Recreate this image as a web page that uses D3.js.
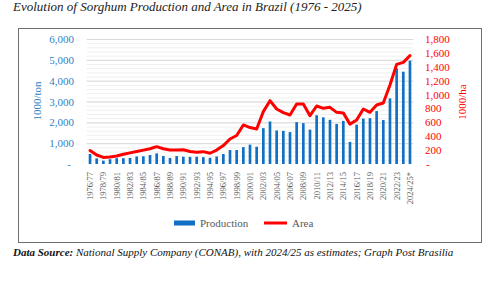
<!DOCTYPE html>
<html>
<head>
<meta charset="utf-8">
<script src="https://cdn.jsdelivr.net/npm/d3@7"></script>
<style>
  body { margin: 0; background: #fff; }
  svg, svg text { font-family: "Liberation Serif", "DejaVu Serif", serif; }
  .grid-minor line { stroke: #f0f0f0; }
  .grid-major line { stroke: #d9d9d9; }
  .grid-minor path, .grid-major path { display: none; }
</style>
</head>
<body>
<div id="chart"></div>
<script>
// Data (1000 t production, 1000 ha area)
const seasons = ["1976/77","1977/78","1978/79","1979/80","1980/81","1981/82","1982/83","1983/84",
  "1984/85","1985/86","1986/87","1987/88","1988/89","1989/90","1990/91","1991/92","1992/93",
  "1993/94","1994/95","1995/96","1996/97","1997/98","1998/99","1999/00","2000/01","2001/02",
  "2002/03","2003/04","2004/05","2005/06","2006/07","2007/08","2008/09","2009/10","2010/11",
  "2011/12","2012/13","2013/14","2014/15","2015/16","2016/17","2017/18","2018/19","2019/20",
  "2020/21","2021/22","2022/23","2023/24","2024/25*"];

const production = [480, 270, 160, 230, 280, 280, 290, 360, 370, 430, 510, 380, 290, 380, 350,
  340, 350, 330, 300, 360, 480, 670, 670, 810, 930, 830, 1720, 2040, 1610, 1590, 1530, 2010,
  1960, 1650, 2340, 2240, 2120, 1920, 2070, 1060, 1890, 2180, 2200, 2540, 2110, 3150, 4590,
  4430, 4960];

const area = [195, 130, 95, 100, 115, 140, 160, 180, 200, 220, 250, 220, 202, 202, 205, 180,
  168, 178, 155, 200, 265, 360, 410, 562, 525, 505, 754, 912, 792, 740, 706, 864, 864, 696,
  835, 802, 816, 744, 736, 574, 634, 792, 744, 850, 878, 1138, 1435, 1464, 1560];

const leftTicks = [0, 1000, 2000, 3000, 4000, 5000, 6000];
const rightTicks = [0, 200, 400, 600, 800, 1000, 1200, 1400, 1600, 1800];

const width = 500;
const height = 292;
const blue = "#1170c4";
const red = "#ff0000";
const serif = "Liberation Serif";

const svg = d3.select("#chart")
  .append("svg")
  .attr("width", width)
  .attr("height", height);

// title
svg.append("text")
  .attr("x", 13)
  .attr("y", 11)
  .attr("font-family", serif)
  .attr("font-size", 13)
  .attr("font-style", "italic")
  .attr("fill", "#222")
  .text("Evolution of Sorghum Production and Area in Brazil (1976 - 2025)");

// frame
svg.append("rect")
  .attr("x", 18.5)
  .attr("y", 28.5)
  .attr("width", 463)
  .attr("height", 214)
  .attr("fill", "none")
  .attr("stroke", "#6e6e6e")
  .attr("stroke-width", 1);

const plot = { left: 86.7, right: 413.3, top: 39, bottom: 164 };

const xScale = d3.scaleBand()
  .domain(seasons)
  .range([plot.left, plot.right])
  .paddingInner(0.6)
  .paddingOuter(0.3);

const yLeft = d3.scaleLinear().domain([0, 6000]).range([plot.bottom, plot.top]);
const yRight = d3.scaleLinear().domain([0, 1800]).range([plot.bottom, plot.top]);

// grid: minor every 200, major every 1000
svg.append("g")
  .attr("class", "grid-minor")
  .attr("transform", `translate(${plot.left},0)`)
  .call(d3.axisLeft(yLeft).tickValues(d3.range(200, 6001, 200)).tickSize(-(plot.right - plot.left)).tickFormat(""));

svg.append("g")
  .attr("class", "grid-major")
  .attr("transform", `translate(${plot.left},0)`)
  .call(d3.axisLeft(yLeft).tickValues(leftTicks.slice(1)).tickSize(-(plot.right - plot.left)).tickFormat(""));

// bars
svg.append("g")
  .selectAll("rect")
  .data(seasons)
  .join("rect")
  .attr("x", d => xScale(d))
  .attr("width", xScale.bandwidth())
  .attr("y", (d, i) => yLeft(production[i]))
  .attr("height", (d, i) => yLeft(0) - yLeft(production[i]))
  .attr("fill", blue);

// area line
const line = d3.line()
  .x((d, i) => xScale(seasons[i]) + xScale.bandwidth() / 2)
  .y(d => yRight(d));

svg.append("path")
  .attr("d", line(area))
  .attr("fill", "none")
  .attr("stroke", red)
  .attr("stroke-width", 3)
  .attr("stroke-linejoin", "round")
  .attr("stroke-linecap", "round");

// left axis
const fmt = d3.format(",");
const leftAxis = svg.append("g")
  .attr("transform", `translate(74,0)`)
  .call(d3.axisLeft(yLeft).tickValues(leftTicks).tickSize(0).tickPadding(0)
    .tickFormat(d => d === 0 ? "-" : fmt(d)));
leftAxis.attr("font-family", serif);
leftAxis.select(".domain").remove();
leftAxis.selectAll("text")
  .attr("font-size", 11)
  .attr("font-family", serif)
  .attr("fill", "#2f7fc4")
  .attr("dx", d => d === 0 ? -3 : 0);

// right axis
const rightAxis = svg.append("g")
  .attr("transform", `translate(425,0)`)
  .call(d3.axisRight(yRight).tickValues(rightTicks).tickSize(0).tickPadding(0)
    .tickFormat(d => d === 0 ? "-" : fmt(d)));
rightAxis.attr("font-family", serif);
rightAxis.select(".domain").remove();
rightAxis.selectAll("text")
  .attr("font-size", 11)
  .attr("font-family", serif)
  .attr("fill", red)
  .attr("dx", d => d === 0 ? 1 : 0);

// x labels (every second season)
svg.append("g")
  .selectAll("text")
  .data(seasons.filter((d, i) => i % 2 === 0))
  .join("text")
  .attr("transform", d => `translate(${xScale(d) + xScale.bandwidth() / 2 + 3},172) rotate(-90)`)
  .attr("text-anchor", "end")
  .attr("font-family", serif)
  .attr("font-size", 8.5)
  .attr("fill", "#595959")
  .text(d => d);

// axis titles
svg.append("text")
  .attr("transform", "translate(41,101) rotate(-90)")
  .attr("text-anchor", "middle")
  .attr("font-family", serif)
  .attr("font-size", 11)
  .attr("fill", "#2f7fc4")
  .text("1000/ton");

svg.append("text")
  .attr("transform", "translate(466,102) rotate(-90)")
  .attr("text-anchor", "middle")
  .attr("font-family", serif)
  .attr("font-size", 11)
  .attr("fill", red)
  .text("1000/ha");

// legend
svg.append("rect")
  .attr("x", 174).attr("y", 220.5)
  .attr("width", 21).attr("height", 5)
  .attr("fill", blue);
svg.append("text")
  .attr("x", 200).attr("y", 227)
  .attr("font-family", serif)
  .attr("font-size", 11)
  .attr("fill", "#595959")
  .text("Production");
svg.append("line")
  .attr("x1", 264).attr("x2", 287)
  .attr("y1", 223).attr("y2", 223)
  .attr("stroke", red).attr("stroke-width", 3);
svg.append("text")
  .attr("x", 292).attr("y", 227)
  .attr("font-family", serif)
  .attr("font-size", 11)
  .attr("fill", "#595959")
  .text("Area");

// source note
const note = svg.append("text")
  .attr("x", 13)
  .attr("y", 256)
  .attr("font-family", serif)
  .attr("font-size", 11)
  .attr("font-style", "italic")
  .attr("fill", "#111");
note.append("tspan").attr("font-weight", "bold").text("Data Source:");
note.append("tspan").text(" National Supply Company (CONAB), with 2024/25 as estimates; Graph Post Brasilia");
</script>
</body>
</html>
